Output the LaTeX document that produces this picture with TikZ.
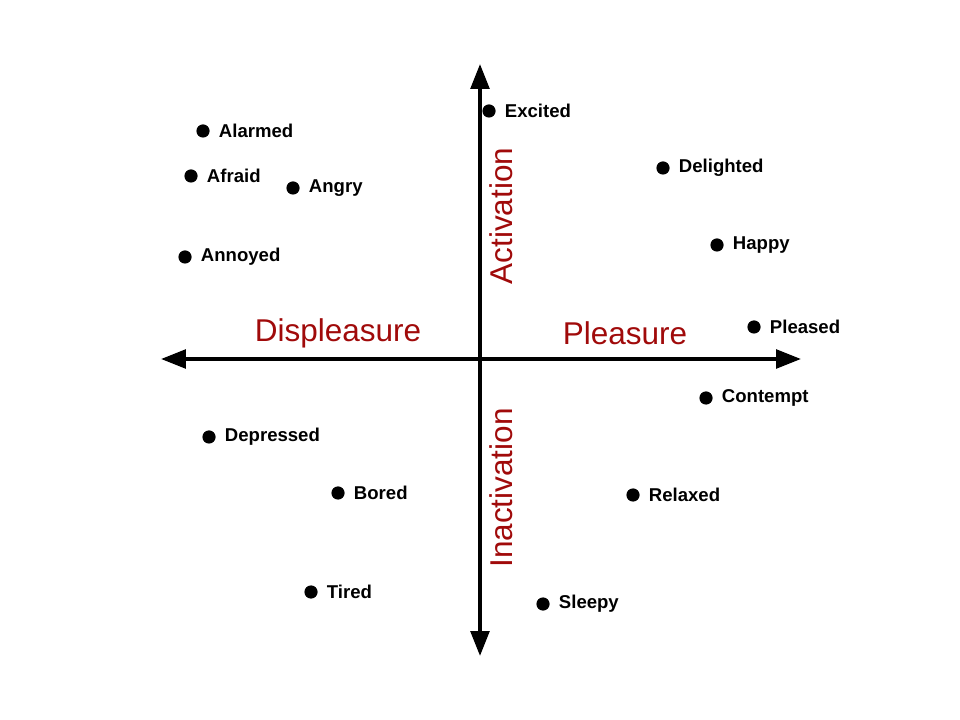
\documentclass[tikz,border=0pt]{standalone}
\usepackage{fontspec}
\setmainfont{Liberation Sans}
\usetikzlibrary{arrows.meta,positioning}
\definecolor{axisred}{RGB}{160,10,10}
\tikzset{
	dot/.style={circle, fill=black, inner sep=0pt, minimum size=0.33cm},
	word/.style={font=\fontsize{13.2}{14}\selectfont\bfseries, inner sep=0pt, anchor=west},
	axis/.style={line width=2.8pt, {Triangle[length=0.62cm,width=0.46cm]}-{Triangle[length=0.62cm,width=0.46cm]}},
	pole/.style={font=\fontsize{22.4}{24}\selectfont, text=axisred, inner sep=0pt}
}
\begin{document}
	\begin{tikzpicture}[x=0.025cm, y=-0.025cm]
		\useasboundingbox (0,0) rectangle (960,720);
		% axes
		\coordinate (top) at (480,64);
		\coordinate (bottom) at (480,656);
		\coordinate (left) at (161,359);
		\coordinate (right) at (801,359);
		\draw[axis] (bottom) -- (top);
		\draw[axis] (left) -- (right);
		
		\node[pole] (displeasure) at (338,333) {Displeasure};
		\node[pole] (pleasure) at (625,333) {Pleasure};
		\node[pole, rotate=90] (activation) at (501,216) {Activation};
		\node[pole, rotate=90] (inactivation) at (501,488) {Inactivation};
		
		% emotions
		\foreach \px/\py/\name/\id in {489/111/Excited/excited, 203/131/Alarmed/alarmed,
			191/176/Afraid/afraid, 293/188/Angry/angry, 185/257/Annoyed/annoyed,
			663/168/Delighted/delighted, 717/245/Happy/happy, 754/327/Pleased/pleased,
			706/398/Contempt/contempt, 209/437/Depressed/depressed, 338/493/Bored/bored,
			633/495/Relaxed/relaxed, 311/592/Tired/tired, 543/604/Sleepy/sleepy} {
			\node[dot] (\id) at (\px,\py) {};
			\node[word, right=0.22cm of \id] (\id-txt) {\name};
		}
	\end{tikzpicture}
\end{document}
